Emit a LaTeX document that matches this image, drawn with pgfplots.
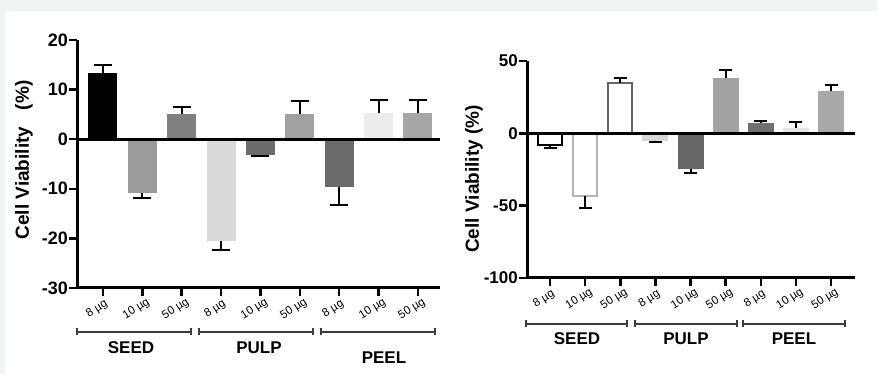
\documentclass[border=0pt]{standalone}
\usepackage{fontspec}
\setmainfont{Liberation Sans}
\usepackage{pgfplots}
\pgfplotsset{compat=1.18}
\definecolor{mint}{RGB}{238,245,242}
\definecolor{brk}{RGB}{60,60,60}
\pgfplotsset{
  vbase/.style={
    scale only axis,
    axis lines=left,
    axis line style={line width=3pt,-},
    tick style={line width=2.5pt,black},
    major tick length=8pt,
    tick align=outside,
    xtick={0,1,2,3,4,5,6,7,8},
    xticklabels={8 µg,10 µg,50 µg,8 µg,10 µg,50 µg,8 µg,10 µg,50 µg},
    xticklabel style={font=\fontsize{11.5}{12}\selectfont, xshift=-6pt, yshift=-13pt, rotate=32, anchor=center, inner sep=0pt},
    clip=false,
  },
  eup/.style={error bars/.cd, y dir=plus, y explicit,
    error bar style={line width=2pt,black},
    error mark options={rotate=90, mark size=#1, line width=2pt, black}},
  edn/.style={error bars/.cd, y dir=minus, y explicit,
    error bar style={line width=2pt,black},
    error mark options={rotate=90, mark size=#1, line width=2pt, black}},
  eup/.default=9pt, edn/.default=9pt,
}
\begin{document}
\begin{tikzpicture}[x=1pt,y=1pt]
\fill[mint] (0,0) rectangle (877,374);
\fill[white] (5,0) rectangle (877,363);

% ---------- Left chart ----------
\begin{axis}[vbase, at={(77pt,86pt)}, anchor=south west,
  width=363pt, height=248pt,
  xmin=-0.66, xmax=8.56, ymin=-30, ymax=20,
  ytick={-30,-20,-10,0,10,20},
  yticklabels={-30,-20,-10,0,10,20},
  yticklabel style={font=\fontsize{18}{18}\selectfont\bfseries, inner sep=1pt}]
\addplot[ybar, bar width=29pt, fill=black, draw=none, eup] coordinates {(0,13.3) +- (0,1.6)};
\addplot[ybar, bar width=29pt, fill={rgb,255:red,155;green,155;blue,155}, draw=none, edn] coordinates {(1,-10.8) +- (0,1.1)};
\addplot[ybar, bar width=29pt, fill={rgb,255:red,128;green,128;blue,128}, draw=none, eup] coordinates {(2,5.1) +- (0,1.3)};
\addplot[ybar, bar width=29pt, fill={rgb,255:red,217;green,217;blue,217}, draw=none, edn] coordinates {(3,-20.5) +- (0,1.8)};
\addplot[ybar, bar width=29pt, fill={rgb,255:red,107;green,107;blue,107}, draw=none, edn] coordinates {(4,-3.1) +- (0,0.3)};
\addplot[ybar, bar width=29pt, fill={rgb,255:red,161;green,161;blue,161}, draw=none, eup] coordinates {(5,5.0) +- (0,2.8)};
\addplot[ybar, bar width=29pt, fill={rgb,255:red,106;green,106;blue,106}, draw=none, edn] coordinates {(6,-9.6) +- (0,3.6)};
\addplot[ybar, bar width=29pt, fill={rgb,255:red,236;green,236;blue,236}, draw=none, eup] coordinates {(7,5.2) +- (0,2.7)};
\addplot[ybar, bar width=29pt, fill={rgb,255:red,166;green,166;blue,166}, draw=none, eup] coordinates {(8,5.2) +- (0,2.7)};
\draw[line width=3pt] (axis cs:-0.66,0) -- (axis cs:8.56,0);
\end{axis}

% ---------- Right chart ----------
\begin{axis}[vbase, at={(527pt,96pt)}, anchor=south west,
  width=328pt, height=217pt,
  xmin=-0.655, xmax=8.68, ymin=-100, ymax=50,
  ytick={-100,-50,0,50},
  yticklabels={-100,-50,0,50},
  yticklabel style={font=\fontsize{17}{17}\selectfont\bfseries, inner sep=1pt}]
\addplot[ybar, bar width=24pt, fill=white, draw=black, line width=2.2pt, edn=6.5pt] coordinates {(0,-8.0) +- (0,2.0)};
\addplot[ybar, bar width=24pt, fill=white, draw={rgb,255:red,180;green,180;blue,180}, line width=2.2pt, edn=6.5pt] coordinates {(1,-43.5) +- (0,8.0)};
\addplot[ybar, bar width=24pt, fill=white, draw={rgb,255:red,100;green,100;blue,100}, line width=2.2pt, eup=6.5pt] coordinates {(2,35.0) +- (0,3.0)};
\addplot[ybar, bar width=26pt, fill={rgb,255:red,215;green,215;blue,215}, draw=none, edn=6.5pt] coordinates {(3,-5.0) +- (0,1.0)};
\addplot[ybar, bar width=26pt, fill={rgb,255:red,102;green,102;blue,102}, draw=none, edn=6.5pt] coordinates {(4,-24.8) +- (0,2.5)};
\addplot[ybar, bar width=26pt, fill={rgb,255:red,163;green,163;blue,163}, draw=none, eup=6.5pt] coordinates {(5,38.0) +- (0,6.0)};
\addplot[ybar, bar width=26pt, fill={rgb,255:red,112;green,112;blue,112}, draw=none, eup=6.5pt] coordinates {(6,7.3) +- (0,1.2)};
\addplot[ybar, bar width=26pt, fill={rgb,255:red,229;green,229;blue,229}, draw=none, eup=6.5pt] coordinates {(7,4.0) +- (0,3.5)};
\addplot[ybar, bar width=26pt, fill={rgb,255:red,168;green,168;blue,168}, draw=none, eup=6.5pt] coordinates {(8,29.2) +- (0,4.0)};
\draw[line width=3pt] (axis cs:-0.655,0) -- (axis cs:8.68,0);
\end{axis}

% y labels
\node[rotate=90, font=\fontsize{19}{19}\selectfont\bfseries] at (24,214) {Cell Viability\hspace{0.6em} (\%)};
\node[rotate=90, font=\fontsize{19}{19}\selectfont\bfseries] at (474,195) {Cell Viability (\%)};

% group brackets left
\foreach \a/\b in {77/191,199/313,321/435}{
  \draw[line width=1.3pt, brk] (\a,42) -- (\b,42);
  \draw[line width=1.3pt, brk] (\a,38.5) -- (\a,45.5);
  \draw[line width=1.3pt, brk] (\b,38.5) -- (\b,45.5);
}
\node[font=\fontsize{17}{17}\selectfont\bfseries] at (131,26) {SEED};
\node[font=\fontsize{17}{17}\selectfont\bfseries] at (259,26) {PULP};
\node[font=\fontsize{17}{17}\selectfont\bfseries] at (384,16) {PEEL};

% group brackets right
\foreach \a/\b in {526/627,635/737,743/845}{
  \draw[line width=1.3pt, brk] (\a,50) -- (\b,50);
  \draw[line width=1.3pt, brk] (\a,46.5) -- (\a,53.5);
  \draw[line width=1.3pt, brk] (\b,46.5) -- (\b,53.5);
}
\node[font=\fontsize{17}{17}\selectfont\bfseries] at (577,35) {SEED};
\node[font=\fontsize{17}{17}\selectfont\bfseries] at (686,35) {PULP};
\node[font=\fontsize{17}{17}\selectfont\bfseries] at (794,35) {PEEL};

\pgfresetboundingbox
\useasboundingbox (0,0) rectangle (877,374);
\end{tikzpicture}
\end{document}
